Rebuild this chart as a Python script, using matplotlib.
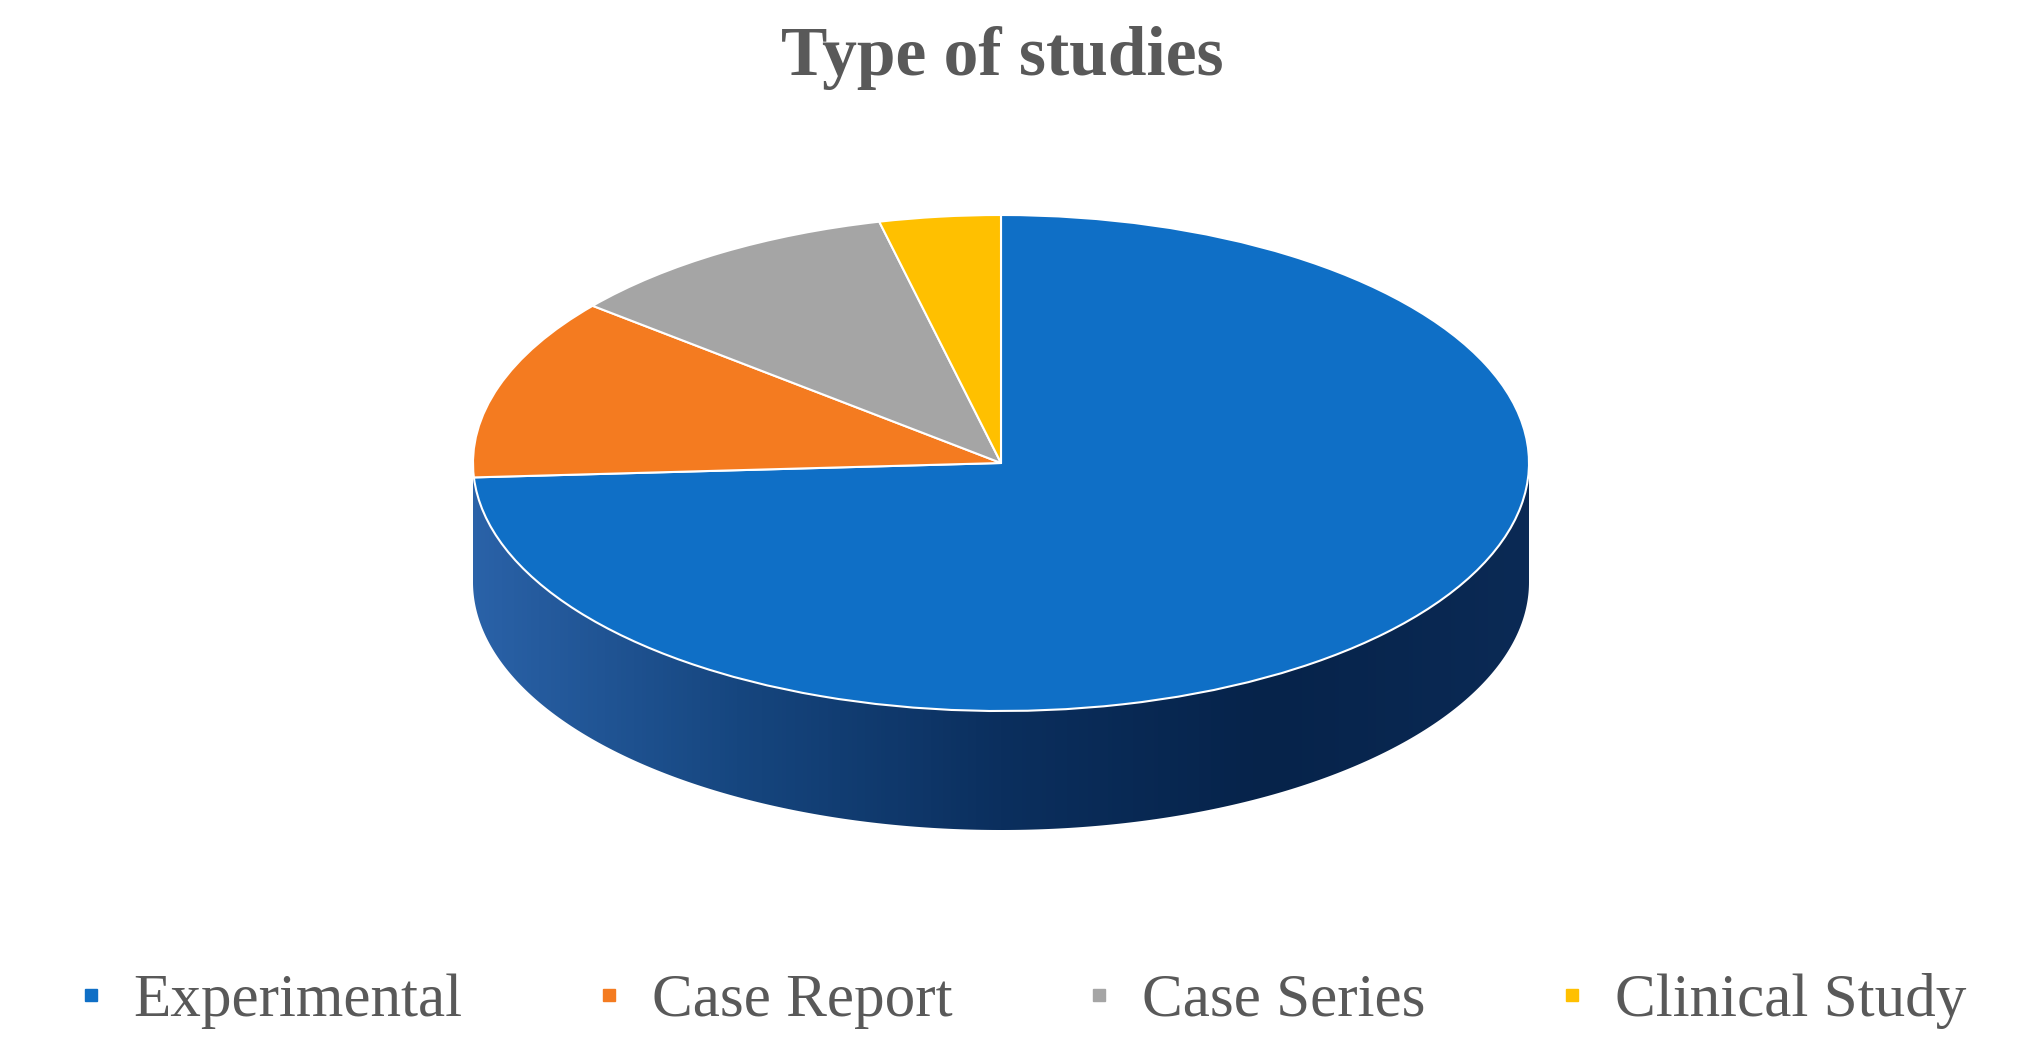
import matplotlib.pyplot as plt
import numpy as np
from matplotlib.lines import Line2D
from matplotlib.patches import Polygon

labels = ["Experimental", "Case Report", "Case Series", "Clinical Study"]
counts = [20, 3.2, 2.8, 1]
colours = ["#0f6fc6", "#f47b20", "#a5a5a5", "#ffc000"]

W, H = 2033, 1063
rx, ry = 528, 248          # top ellipse radii in pixels
k = rx / ry
cx, cy_px = 1001, 463      # centre of top face (pixels from top)
depth_px = 119

fig = plt.figure(figsize=(W / 100, H / 100), dpi=100)
ax = fig.add_axes([0, 0, 1, 1])
cy = (H - cy_px) * k
depth = depth_px * k

# side wall with gradient
t = np.linspace(np.pi, 2 * np.pi, 300)
xs = cx + rx * np.cos(t)
ys = cy + rx * np.sin(t)
side = np.concatenate([np.column_stack([xs, ys]),
                       np.column_stack([xs[::-1], ys[::-1] - depth])])
poly = Polygon(side, closed=True, facecolor="none", edgecolor="none")
ax.add_patch(poly)
grad = np.linspace(0, 1, 256)[None, :]
from matplotlib.colors import LinearSegmentedColormap
cmap = LinearSegmentedColormap.from_list("side", ["#2a62a8", "#16467f", "#0b2f5e", "#06234a", "#0b2a55"])
im = ax.imshow(grad, cmap=cmap, aspect="auto",
               extent=(cx - rx, cx + rx, cy - rx - depth, cy), zorder=1)
im.set_clip_path(poly)

# top face
ax.pie(counts, colors=colours, startangle=90, counterclock=False,
       radius=rx, center=(cx, cy), frame=True,
       wedgeprops=dict(edgecolor="white", linewidth=1.5, zorder=2))

ax.set_aspect("auto")
ax.set_xlim(0, W)
ax.set_ylim(0, H * k)
ax.axis("off")

fig.text(0.493, 1 - 58 / H, "Type of studies", ha="center", va="center",
         fontsize=50, fontweight="bold", family="Liberation Serif", color="#595959")

handles = [Line2D([], [], marker="s", linestyle="none", markersize=9,
                  markerfacecolor=c, markeredgecolor=c) for c in colours]
fig.legend(handles, labels, loc="center", bbox_to_anchor=(0.5, 1 - 1001 / H),
           ncol=4, frameon=False, prop={"family": "Liberation Serif", "size": 44},
           labelcolor="#595959", handletextpad=0.3, columnspacing=2.0,
           handlelength=0.8)

fig.savefig("out.png", dpi=100)
